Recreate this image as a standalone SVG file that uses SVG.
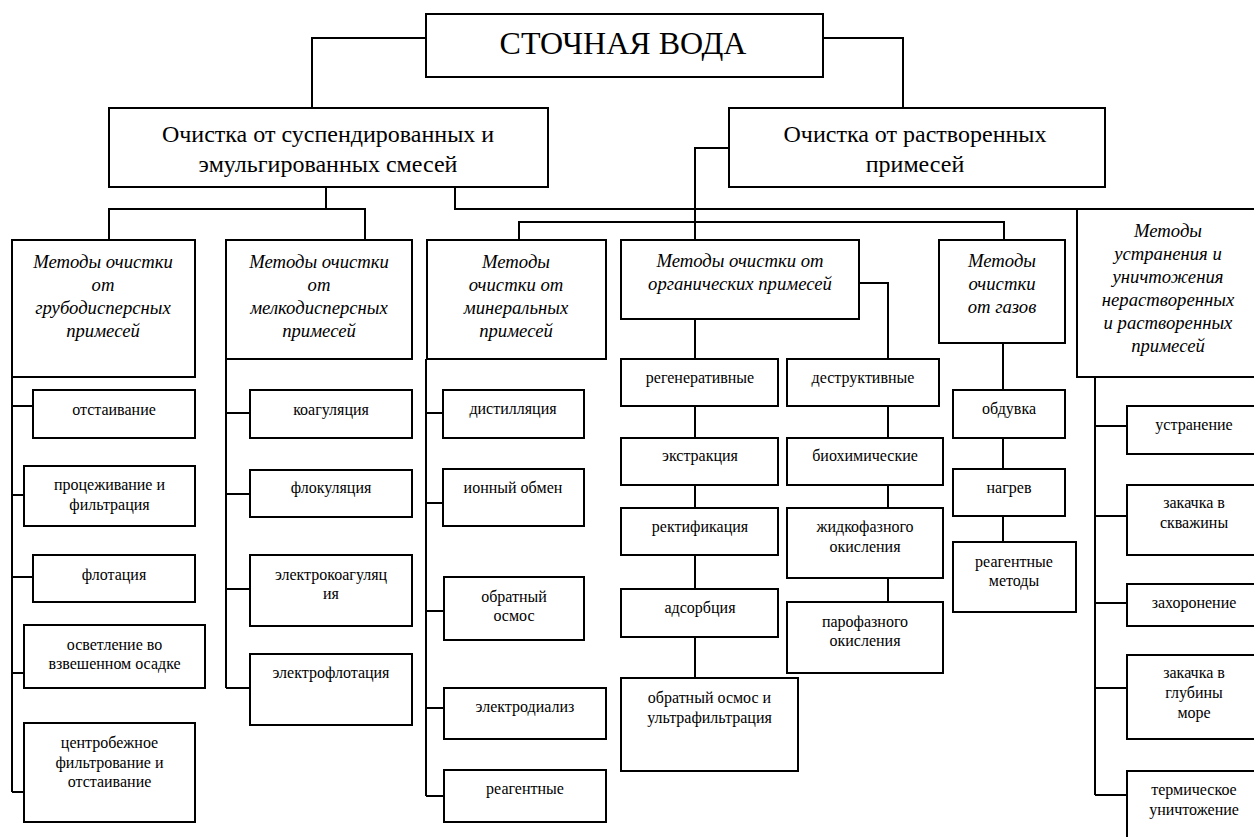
<svg xmlns="http://www.w3.org/2000/svg" width="1254" height="837" viewBox="0 0 1254 837" font-family="Liberation Serif, Times New Roman, serif">
<style>
rect{fill:#fff;stroke:#000;stroke-width:2}
#connectors path{fill:none;stroke:#000;stroke-width:2}
text{font-family:"Liberation Serif","Times New Roman",serif;fill:#000;text-anchor:middle}
.t0{font-size:32px}
.t1{font-size:24px}
.h{font-size:18.7px;font-style:italic}
.l{font-size:16px}
</style>
<rect x="0" y="0" width="1254" height="837" style="stroke:none"/>
<g id="connectors">
<path d="M426 38H312V108"/>
<path d="M823 38H903V108"/>
<path d="M326 187V209M109 240V209H365V240"/>
<path d="M455 187V209H1077"/>
<path d="M729 148H695V240"/>
<path d="M519 240V222H1004V240"/>
<path d="M12 377V792M12 406H33M12 495H24M12 577H33M12 673H24M12 792H24"/>
<path d="M226 359V688M226 413H250M226 494H250M226 589H250M226 688H250"/>
<path d="M426 359V796M426 413H443M426 503H443M426 611H444M426 708H444M426 796H444"/>
<path d="M695 319V359M695 406V438M695 485V508M695 555V589M695 637V678"/>
<path d="M859 283H888V359M888 406V438M888 485V508M888 578V602"/>
<path d="M1003 343V390M1003 438V469M1003 516V542"/>
<path d="M1095 377V795M1095 426H1127M1095 516H1127M1095 603H1127M1095 688H1127M1095 795H1127"/>
</g>
<g id="root"><rect x="426" y="14" width="397" height="63"/><text class="t0" x="623" y="54">СТОЧНАЯ ВОДА</text></g>
<g id="susp"><rect x="109" y="108" width="439" height="79"/><text class="t1" x="328" y="142">Очистка от суспендированных и</text><text class="t1" x="328" y="172">эмульгированных смесей</text></g>
<g id="rastv"><rect x="729" y="108" width="376" height="79"/><text class="t1" x="915" y="142">Очистка от растворенных</text><text class="t1" x="915" y="172">примесей</text></g>

<g id="grub"><rect x="12" y="240" width="183" height="137"/><text class="h" x="103" y="268">Методы очистки</text><text class="h" x="103" y="291">от</text><text class="h" x="103" y="314">грубодисперсных</text><text class="h" x="103" y="337">примесей</text></g>
<g id="melk"><rect x="226" y="240" width="186" height="119"/><text class="h" x="319" y="268">Методы очистки</text><text class="h" x="319" y="291">от</text><text class="h" x="319" y="314">мелкодисперсных</text><text class="h" x="319" y="337">примесей</text></g>
<g id="miner"><rect x="427" y="240" width="179" height="119"/><text class="h" x="516" y="268">Методы</text><text class="h" x="516" y="291">очистки от</text><text class="h" x="516" y="314">минеральных</text><text class="h" x="516" y="337">примесей</text></g>
<g id="organ"><rect x="621" y="240" width="238" height="79"/><text class="h" x="740" y="267">Методы очистки от</text><text class="h" x="740" y="290">органических примесей</text></g>
<g id="gaz"><rect x="939" y="240" width="126" height="103"/><text class="h" x="1002" y="267">Методы</text><text class="h" x="1002" y="290">очистки</text><text class="h" x="1002" y="313">от газов</text></g>
<g id="ustr"><rect x="1077" y="209" width="185" height="168"/><text class="h" x="1168" y="237">Методы</text><text class="h" x="1168" y="260">устранения и</text><text class="h" x="1168" y="283">уничтожения</text><text class="h" x="1168" y="306">нерастворенных</text><text class="h" x="1168" y="329">и растворенных</text><text class="h" x="1168" y="352">примесей</text></g>

<g id="otst"><rect x="33" y="390" width="162" height="48"/><text class="l" x="114" y="415">отстаивание</text></g>
<g id="proc"><rect x="24" y="466" width="171" height="60"/><text class="l" x="109.5" y="490">процеживание и</text><text class="l" x="109.5" y="510">фильтрация</text></g>
<g id="flot"><rect x="33" y="555" width="162" height="47"/><text class="l" x="114" y="580">флотация</text></g>
<g id="osvet"><rect x="24" y="625" width="181" height="63"/><text class="l" x="114.5" y="650">осветление во</text><text class="l" x="114.5" y="669">взвешенном осадке</text></g>
<g id="centr"><rect x="24" y="723" width="171" height="99"/><text class="l" x="109.5" y="748">центробежное</text><text class="l" x="109.5" y="768">фильтрование и</text><text class="l" x="109.5" y="787">отстаивание</text></g>

<g id="koag"><rect x="250" y="390" width="162" height="48"/><text class="l" x="331" y="415">коагуляция</text></g>
<g id="flok"><rect x="250" y="470" width="162" height="47"/><text class="l" x="331" y="493">флокуляция</text></g>
<g id="ekoag"><rect x="250" y="555" width="162" height="71"/><text class="l" x="331" y="580">электрокоагуляц</text><text class="l" x="331" y="599">ия</text></g>
<g id="eflot"><rect x="250" y="654" width="162" height="71"/><text class="l" x="331" y="678">электрофлотация</text></g>

<g id="dist"><rect x="443" y="390" width="141" height="48"/><text class="l" x="513" y="414">дистилляция</text></g>
<g id="ion"><rect x="443" y="469" width="141" height="57"/><text class="l" x="513" y="493">ионный обмен</text></g>
<g id="osm"><rect x="444" y="577" width="140" height="63"/><text class="l" x="514" y="602">обратный</text><text class="l" x="514" y="621">осмос</text></g>
<g id="edial"><rect x="444" y="688" width="162" height="51"/><text class="l" x="525" y="712">электродиализ</text></g>
<g id="reag1"><rect x="444" y="770" width="162" height="52"/><text class="l" x="525" y="794">реагентные</text></g>

<g id="regen"><rect x="621" y="359" width="157" height="47"/><text class="l" x="700" y="383">регенеративные</text></g>
<g id="extr"><rect x="621" y="438" width="157" height="47"/><text class="l" x="700" y="461">экстракция</text></g>
<g id="rekt"><rect x="621" y="508" width="157" height="47"/><text class="l" x="700" y="532">ректификация</text></g>
<g id="adsorb"><rect x="621" y="589" width="157" height="48"/><text class="l" x="700" y="613">адсорбция</text></g>
<g id="ultra"><rect x="621" y="678" width="177" height="93"/><text class="l" x="709.5" y="703">обратный осмос и</text><text class="l" x="709.5" y="723">ультрафильтрация</text></g>

<g id="destr"><rect x="787" y="359" width="152" height="47"/><text class="l" x="863" y="383">деструктивные</text></g>
<g id="bio"><rect x="787" y="438" width="156" height="47"/><text class="l" x="865" y="461">биохимические</text></g>
<g id="zhid"><rect x="787" y="508" width="156" height="70"/><text class="l" x="865" y="532">жидкофазного</text><text class="l" x="865" y="552">окисления</text></g>
<g id="par"><rect x="787" y="602" width="156" height="71"/><text class="l" x="865" y="627">парофазного</text><text class="l" x="865" y="646">окисления</text></g>

<g id="obduv"><rect x="953" y="390" width="112" height="48"/><text class="l" x="1009" y="414">обдувка</text></g>
<g id="nagr"><rect x="953" y="469" width="112" height="47"/><text class="l" x="1009" y="493">нагрев</text></g>
<g id="reag2"><rect x="953" y="542" width="123" height="70"/><text class="l" x="1014" y="567">реагентные</text><text class="l" x="1014" y="586">методы</text></g>

<g id="ustran"><rect x="1127" y="406" width="135" height="48"/><text class="l" x="1194" y="430">устранение</text></g>
<g id="skv"><rect x="1127" y="485" width="135" height="70"/><text class="l" x="1194" y="508">закачка в</text><text class="l" x="1194" y="528">скважины</text></g>
<g id="zah"><rect x="1127" y="584" width="135" height="42"/><text class="l" x="1194" y="608">захоронение</text></g>
<g id="more"><rect x="1127" y="655" width="135" height="84"/><text class="l" x="1194" y="678">закачка в</text><text class="l" x="1194" y="698">глубины</text><text class="l" x="1194" y="718">море</text></g>
<g id="term"><rect x="1127" y="771" width="135" height="80"/><text class="l" x="1194" y="795">термическое</text><text class="l" x="1194" y="815">уничтожение</text></g>
</svg>
